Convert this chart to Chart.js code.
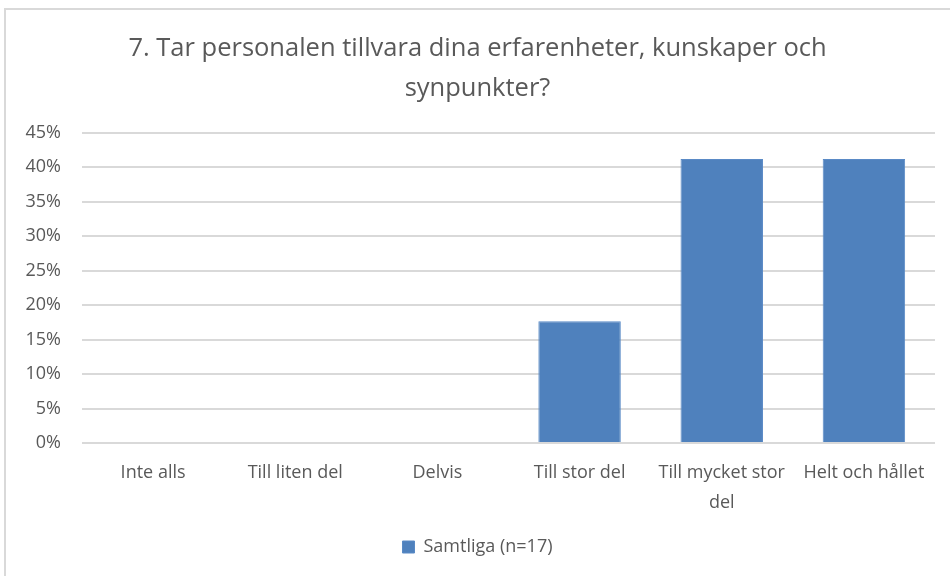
<!DOCTYPE html>
<html>
<head>
<meta charset="utf-8">
<script src="https://cdn.jsdelivr.net/npm/chart.js@4"></script>
<style>
  body { margin: 0; background: #fff; overflow: hidden; }
  #frame {
    position: absolute; left: 4px; top: 8px; width: 1000px; height: 640px;
    border: 2px solid #d9d9d9;
  }
  #chart { position: absolute; left: 0; top: 0; }
</style>
</head>
<body>
<div id="frame"></div>
<canvas id="chart" width="950" height="576"></canvas>
<script>
const titleLines = ["7. Tar personalen tillvara dina erfarenheter, kunskaper och", "synpunkter?"];
const categories = [
  "Inte alls",
  "Till liten del",
  "Delvis",
  "Till stor del",
  ["Till mycket stor", "del"],
  "Helt och hållet"
];
const seriesName = "Samtliga (n=17)";
const values = [0, 0, 0, 17.65, 41.18, 41.18];
const yTicks = [0, 5, 10, 15, 20, 25, 30, 35, 40, 45];

const textColor = "#595959";
const gridColor = "#d9d9d9";
const barColor = "#4f81bd";
const fontFamily = "'Open Sans', sans-serif";

new Chart(document.getElementById("chart"), {
  type: "bar",
  data: {
    labels: categories,
    datasets: [{
      label: seriesName,
      data: values,
      backgroundColor: barColor,
      borderColor: "#5a8ac6",
      borderWidth: 1,
      categoryPercentage: 1,
      barPercentage: 0.58
    }]
  },
  options: {
    responsive: false,
    animation: false,
    layout: { padding: { top: 28, left: 20, right: 15, bottom: 10 } },
    plugins: {
      title: {
        display: true,
        text: titleLines,
        color: textColor,
        font: { family: fontFamily, size: 25.5, weight: "normal", lineHeight: 1.6 },
        padding: { top: 0, bottom: 23 }
      },
      legend: {
        position: "bottom",
        labels: {
          color: textColor,
          font: { family: fontFamily, size: 18 },
          boxWidth: 12,
          boxHeight: 12,
          padding: 10
        }
      },
      tooltip: { enabled: false }
    },
    scales: {
      x: {
        grid: { display: false },
        border: { display: false },
        ticks: {
          color: textColor,
          font: { family: fontFamily, size: 18, lineHeight: 1.67 },
          padding: 7,
          maxRotation: 0,
          autoSkip: false
        },
        afterFit: (scale) => { scale.height = 85; }
      },
      y: {
        min: 0,
        max: 45,
        grid: { color: gridColor, lineWidth: 2, drawTicks: false },
        border: { display: false },
        afterBuildTicks: (scale) => { scale.ticks = yTicks.map(v => ({ value: v })); },
        ticks: {
          color: textColor,
          font: { family: fontFamily, size: 18 },
          padding: 21,
          callback: (v) => v + "%"
        },
        afterFit: (scale) => { scale.width = 62; }
      }
    }
  }
});
</script>
</body>
</html>
